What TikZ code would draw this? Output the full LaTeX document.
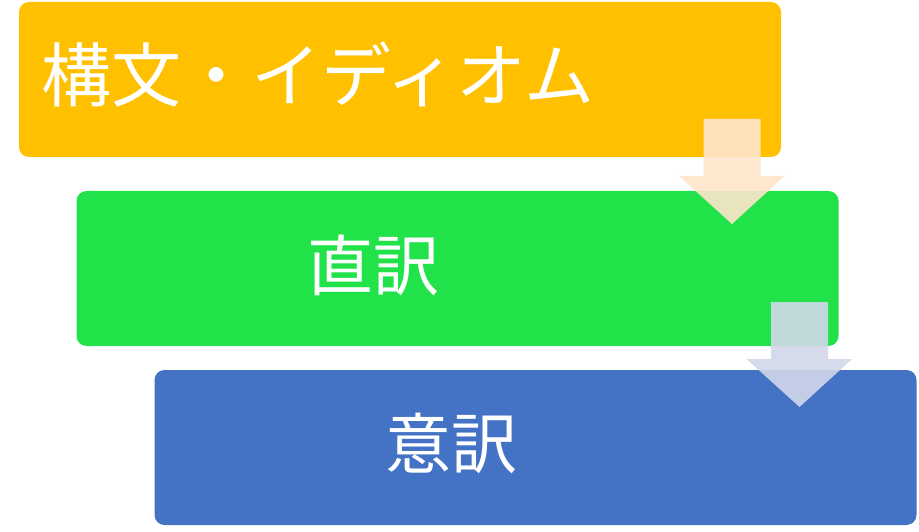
\documentclass[tikz,border=0pt]{standalone}
\usepackage{fontspec}
\newfontfamily\jpfont{Noto Sans CJK JP}
\usetikzlibrary{positioning,calc}
\definecolor{boxorange}{RGB}{255,192,0}
\definecolor{boxgreen}{RGB}{34,226,74}
\definecolor{boxblue}{RGB}{68,114,196}
\definecolor{arrowpeach}{RGB}{254,229,203}
\definecolor{arrowlilac}{RGB}{209,215,233}

\begin{document}
\begin{tikzpicture}[x=1pt, y=-1pt,
    stepbox/.style={rounded corners=10pt, minimum width=762pt, minimum height=155pt, inner sep=0pt},
    steptext/.style={text=white, font=\jpfont\fontsize{66}{70}\selectfont, inner sep=0pt}]
    \useasboundingbox (0,0) rectangle (919,532);

    % Step boxes
    \node[stepbox, fill=boxorange] (idiom) at (400,79.5) {};
    \node[stepbox, fill=boxgreen] (literal) at (457.5,268.5) {};
    \node[stepbox, fill=boxblue] (free) at (535.5,447.5) {};

    % Labels inside the boxes
    \node[steptext, font=\jpfont\fontsize{70}{74}\selectfont] (idiomtext) at (318,75) {構文・イディオム};
    \node[steptext] (literaltext) at (373,265) {直訳};
    \node[steptext] (freetext) at (451,443) {意訳};

    % Block arrows between the steps
    \foreach \ax/\ay/\col in {732/119/arrowpeach, 799.5/302/arrowlilac} {
        \fill[\col, fill opacity=0.9] (\ax-28.5,\ay) -- ++(57,0) -- ++(0,57) -- ++(24,0)
            -- (\ax,\ay+105) -- (\ax-53,\ay+57) -- (\ax-28.5,\ay+57) -- cycle;
    }
\end{tikzpicture}
\end{document}
